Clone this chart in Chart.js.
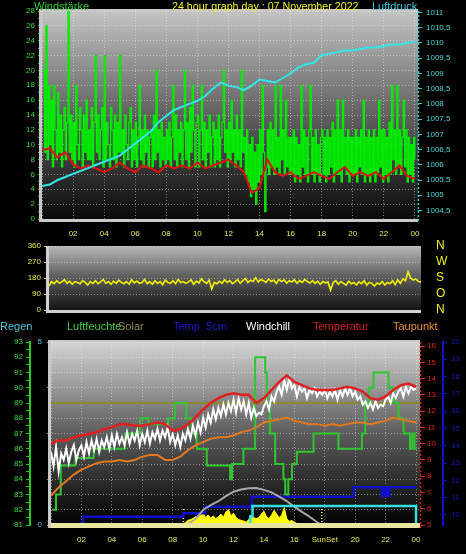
<!DOCTYPE html>
<html>
<head>
<meta charset="utf-8">
<script src="https://cdn.jsdelivr.net/npm/chart.js@4.4.0/dist/chart.umd.min.js"></script>
<style>
body { margin: 0; background: #000; width: 466px; height: 554px; overflow: hidden; position: relative; font-family: 'Liberation Sans', Arial, sans-serif; }
canvas { position: absolute; left: 0; top: 0; }
.t { position: absolute; font-size: 11px; line-height: 12px; white-space: nowrap; }
</style>
</head>
<body>
<canvas id="c1" width="466" height="554"></canvas>
<canvas id="c2" width="466" height="554"></canvas>
<canvas id="c3" width="466" height="554"></canvas>

<div class="t" style="left:34px;top:0;color:#33cc33">Windstärke</div>
<div class="t" style="left:172px;top:0;color:#eeee22;font-size:10.7px">24 hour graph day : 07 November 2022</div>
<div class="t" style="left:372px;top:0;color:#33ccdd">Luftdruck</div>

<div class="t" style="left:0;top:320px;color:#44ccdd">Regen</div>
<div class="t" style="left:67px;top:320px;color:#44cc44">Luftfeuchte</div>
<div class="t" style="left:118px;top:320px;color:#8c8c4c">Solar</div>
<div class="t" style="left:173px;top:320px;color:#1a1acc">Temp. 5cm</div>
<div class="t" style="left:246px;top:320px;color:#ffffff">Windchill</div>
<div class="t" style="left:313px;top:320px;color:#d42020">Temperatur</div>
<div class="t" style="left:393px;top:320px;color:#e8903a">Taupunkt</div>

<script>
// top panel: wind speed every 5 min, mean wind + pressure every 30 min
const windGust = [
  20, 20, 9, 26, 8, 18, 10, 16, 7, 18, 12, 8,
  17, 9, 14, 7, 12, 15, 8, 13, 28, 9, 14, 8,
  13, 7, 18, 10, 8, 15, 12, 7, 14, 9, 16, 8,
  12, 8, 15, 7, 13, 22, 9, 14, 8, 12, 15, 7,
  22, 8, 13, 10, 7, 15, 12, 8, 14, 7, 13, 9,
  22, 9, 12, 7, 14, 10, 8, 13, 15, 7, 12, 8,
  13, 7, 11, 18, 8, 12, 7, 14, 9, 12, 7, 11,
  12, 7, 14, 8, 20, 9, 12, 7, 13, 8, 11, 7,
  12, 8, 13, 7, 11, 18, 8, 14, 7, 12, 9, 13,
  7, 12, 20, 8, 13, 7, 15, 9, 18, 12, 7, 13,
  14, 7, 12, 18, 8, 13, 7, 12, 9, 14, 7, 11,
  13, 7, 12, 8, 14, 7, 11, 13, 20, 9, 12, 7,
  13, 8, 16, 9, 12, 7, 14, 8, 12, 7, 20, 9,
  11, 6, 12, 5, 10, 3, 11, 4, 9, 2, 10, 5,
  12, 6, 18, 9, 1, 7, 12, 6, 13, 7, 12, 6,
  18, 7, 11, 6, 18, 8, 12, 6, 16, 7, 11, 6,
  11, 6, 12, 5, 11, 6, 10, 5, 18, 7, 12, 6,
  11, 5, 12, 18, 6, 11, 5, 12, 6, 10, 5, 11,
  12, 6, 11, 5, 12, 6, 11, 7, 13, 5, 12, 6,
  16, 6, 12, 5, 16, 7, 11, 6, 12, 5, 11, 6,
  11, 6, 12, 5, 11, 7, 12, 6, 16, 5, 11, 6,
  12, 5, 11, 6, 12, 5, 11, 6, 16, 7, 12, 5,
  12, 6, 11, 5, 13, 6, 18, 8, 12, 6, 18, 7,
  12, 6, 11, 16, 7, 12, 5, 11, 6, 10, 5, 11,
  8
];
const windAvg = [
  9.3, 9.5, 8.3, 9.0, 7.3, 6.8, 7.2, 6.8, 6.3, 6.8, 7.6, 6.8, 6.3, 7.2, 6.8, 6.3,
  7.2, 6.8, 7.2, 6.8, 7.6, 6.8, 7.2, 7.6, 8.0, 7.2, 6.3, 3.5, 4.2, 8.0, 6.3, 5.8,
  6.3, 5.4, 5.8, 6.3, 5.8, 5.4, 6.3, 7.0, 5.8, 6.3, 5.8, 6.3, 5.4, 6.3, 7.2, 5.8, 5.4
];
const pressure = [
  1005.3, 1005.35, 1005.5, 1005.6, 1005.7, 1005.8, 1005.9, 1006.0, 1006.1, 1006.2,
  1006.3, 1006.5, 1006.7, 1006.9, 1007.1, 1007.4, 1007.6, 1007.8, 1007.9, 1008.0,
  1008.1, 1008.25, 1008.5, 1008.7, 1008.6, 1008.55, 1008.45, 1008.6, 1008.8, 1008.75,
  1008.7, 1008.85, 1009.0, 1009.2, 1009.3, 1009.35, 1009.6, 1009.65, 1009.7, 1009.75,
  1009.75, 1009.8, 1009.85, 1009.85, 1009.9, 1009.95, 1009.95, 1010.0, 1010.05
];

// middle panel: wind direction every 10 min
const windDir = [
  135, 160, 148, 165, 152, 158,  170, 150, 162, 145, 160, 155,  148, 165, 155, 140, 160, 150,
  165, 148, 158, 172, 150, 160,  145, 162, 150, 168, 155, 148,  160, 145, 170, 152, 163, 150,
  155, 172, 148, 160, 145, 165,  150, 160, 142, 168, 155, 150,  165, 148, 172, 155, 160, 150,
  158, 170, 145, 163, 152, 175,  160, 150, 168, 118, 155, 148,  162, 150, 170, 155, 165, 148,
  158, 172, 150, 165, 178, 155,  168, 160, 182, 158, 172, 165,  155, 175, 160, 168, 150, 172,
  160, 170, 152, 165, 158, 170,  150, 165, 155, 172, 160, 152,  165, 150, 162, 145, 160, 152,
  158, 112, 155, 165, 145, 160,  150, 140, 162, 148, 155, 142,  158, 148, 165, 140, 155, 150,
  135, 152, 145, 160, 140, 155,  148, 165, 142, 170, 150, 175,  165, 215, 180, 168, 175, 160,
  158
];
const compass = { 0: 'N', 90: 'O', 180: 'S', 270: 'W', 360: 'N' };

// bottom panel
const humTimes = [0.1, 0.33, 0.64, 1.6, 2.8, 4.87, 5.86, 6.4, 7.7, 8.16, 8.9, 9.25, 9.58, 10.24,
  11.78, 11.9, 12.65, 13.42, 14.08, 14.19, 14.4, 14.74, 15.28, 15.4, 15.6, 15.84, 16.16, 17.26,
  18.9, 20.44, 20.66, 20.88, 21.2, 22.19, 22.52, 22.85, 23.18, 23.6, 23.75, 23.9, 24.05];
const humValues = [82, 83, 84.9, 85.4, 86, 87, 88, 87.6, 88, 89, 88, 87, 86, 84.9,
  84, 85, 86, 92, 91, 89, 87, 85, 84, 83, 84, 85, 85.8, 87,
  86, 87, 89, 90, 91, 90, 89, 88, 87, 86, 87, 86, 86];
const temperature = [ // every 30 min
  10.0, 10.2, 10.2, 10.4, 10.5, 10.6, 10.7, 10.9, 11.0, 11.2, 11.2, 11.1, 11.1, 11.2, 11.3, 11.2,
  10.8, 10.9, 11.2, 11.6, 12.1, 12.5, 12.8, 13.0, 13.1, 13.0, 13.0, 12.5, 12.8, 13.3, 13.8, 14.2,
  13.8, 13.6, 13.4, 13.3, 13.3, 13.3, 13.4, 13.5, 13.4, 13.2, 12.8, 12.7, 12.9, 13.3, 13.6, 13.7, 13.5
];
const dewPoint = [ // every 30 min
  6.8, 7.3, 7.7, 8.1, 8.4, 8.6, 8.8, 8.9, 8.9, 9.0, 8.9, 9.0, 9.2, 9.3, 9.3, 9.0,
  9.0, 9.2, 9.6, 9.9, 10.1, 10.3, 10.4, 10.4, 10.5, 10.7, 10.8, 11.0, 11.3, 11.4, 11.5, 11.6,
  11.4, 11.3, 11.2, 11.2, 11.1, 11.2, 11.1, 11.2, 11.3, 11.3, 11.2, 11.3, 11.4, 11.6, 11.5, 11.4, 11.3
];
const windChill = [ // every 10 min
  9.5, 8.6, 9.8, 8.3, 9.4, 9.0,   9.7, 8.8, 9.5, 9.9, 9.0, 9.6,   9.9, 9.2, 10.1, 9.4, 10.2, 9.6,
  10.3, 9.5, 10.2, 9.8, 10.4, 9.7,   10.5, 9.8, 10.6, 10.0, 10.4, 9.9,   10.7, 10.0, 10.6, 10.2, 10.8, 9.9,
  10.6, 10.1, 10.8, 10.0, 10.7, 10.3,   10.9, 10.2, 10.8, 10.4, 11.0, 10.1,   10.6, 9.9, 10.5, 9.8, 10.6, 10.2,
  10.9, 10.3, 11.1, 10.5, 11.3, 10.7,   11.6, 11.0, 11.8, 11.3, 12.1, 11.5,   12.2, 11.7, 12.4, 11.8, 12.5, 12.0,
  12.7, 11.9, 12.8, 12.1, 12.6, 11.8,   12.5, 11.6, 12.2, 11.7, 11.9, 11.8,   12.3, 12.6, 12.1, 12.9, 12.6, 13.2,
  13.5, 13.0, 13.9, 13.3, 14.0, 13.4,   13.6, 12.9, 13.5, 13.2, 13.4, 12.8,   13.3, 13.1, 13.4, 12.9, 13.2, 13.0,
  13.3, 12.8, 13.2, 12.9, 13.3, 12.7,   13.3, 12.9, 13.4, 13.0, 13.4, 12.9,   13.2, 12.7, 12.9, 12.4, 12.6, 12.2,
  12.5, 12.1, 12.6, 12.2, 12.4, 12.3,   12.7, 12.9, 12.5, 13.1, 12.8, 13.2,   13.4, 12.9, 13.5, 13.1, 13.5, 13.3,
  13.4
];
const rainTimes = [0, 13.1, 13.25, 24.0, 24.26];
const rainValues = [0, 0.23, 0.52, 0, 0];
const t5Times = [0, 2.13, 8.7, 10.13, 13.2, 19.9, 21.75, 21.85, 21.95, 22.05, 22.15, 22.25, 22.4, 24.05];
const t5Values = [9.3, 9.9, 10.1, 10.48, 11.05, 11.6, 11.1, 11.6, 11.1, 11.6, 11.1, 11.6, 11.6, 11.6];
const solarStart = 8; // solar every 10 min from 08:00
const solar = [
  0, 0, 2, 5, 8, 12,   25, 30, 35, 45, 40, 55,   70, 40, 55, 38, 50, 35,   45, 60, 42, 72, 85, 50,
  65, 40, 30, 25, 22, 15,   30, 55, 40, 35, 42, 60,   75, 45, 35, 55, 80, 60,   40, 55, 95, 35, 20, 25,
  15, 8, 6, 5, 4, 3,   3, 2, 2, 1, 0, 0
];
const solarMaxTimes = [8.9, 9.5, 10, 10.5, 11, 11.5, 12, 12.5, 13, 13.5, 14, 14.5, 15, 15.5, 16, 16.5, 17, 17.5, 17.8];
const solarMax = [0, 33, 82, 108, 130, 158, 182, 194, 201, 202, 192, 178, 155, 130, 100, 72, 45, 15, 0];
const sunMarks = [8.7, 17.8];
const solarLevel = 89;

const tickFont = { family: "'Liberation Sans', Arial, sans-serif", size: 8 };
const dotted = 'rgba(255,255,255,0.42)';
const none = 'rgba(0,0,0,0)';
const pts = (times, vals) => vals.map((v, i) => ({ x: times[i], y: v }));
const every = (vals, step, start = 0) => vals.map((v, i) => ({ x: start + i * step, y: v }));
const onStep = step => s => { s.ticks = s.ticks.filter(t => Math.abs(t.value / step - Math.round(t.value / step)) < 1e-6); };
const hourLabel = v => v === 0 ? '' : String(v % 24).padStart(2, '0');

const panel = {
  id: 'panel',
  beforeDraw(chart, args, o) {
    const { ctx, chartArea: a } = chart;
    const g = ctx.createLinearGradient(0, a.top, 0, a.bottom);
    g.addColorStop(0, o.top);
    g.addColorStop(0.5, o.mid);
    g.addColorStop(1, o.bottom);
    ctx.save();
    ctx.fillStyle = g;
    ctx.fillRect(a.left, a.top, a.right - a.left, a.bottom - a.top);
    ctx.restore();
  },
  afterDraw(chart, args, o) {
    const { ctx, chartArea: a } = chart;
    ctx.save();
    ctx.fillStyle = o.frame;
    ctx.fillRect(a.left - 3, a.top - (o.topLine ? 2 : 0), 3, a.bottom - a.top + 3);
    ctx.fillRect(a.left - 3, a.bottom, a.right - a.left + 3, 3);
    if (o.topLine) ctx.fillRect(a.left - 3, a.top - 2, a.right - a.left + 3, 2);
    if (o.base) { ctx.fillStyle = o.base; ctx.fillRect(a.left, a.bottom - 2, a.right - a.left, 5); }
    if (o.right) {
      ctx.strokeStyle = o.right; ctx.lineWidth = 1.5; ctx.setLineDash([2, 2]);
      ctx.beginPath(); ctx.moveTo(a.right + 0.5, a.top); ctx.lineTo(a.right + 0.5, a.bottom + 3); ctx.stroke();
    }
    ctx.restore();
  }
};

const base = (padding, panelOpts) => ({
  responsive: false,
  animation: false,
  events: [],
  layout: { padding },
  plugins: { legend: { display: false }, tooltip: { enabled: false }, panel: panelOpts },
  elements: { point: { radius: 0 }, line: { tension: 0 } }
});

// ---- top chart
const opt1 = base({ left: 0, right: 0, top: 11, bottom: 310 },
  { top: '#c4c4c4', mid: '#606060', bottom: '#0a0a0a', frame: '#c8c8c8', topLine: true, right: '#33cccc' });
opt1.scales = {
  x: {
    type: 'linear', min: 0, max: 24.2,
    afterBuildTicks: onStep(1), afterFit: s => { s.height = 25; },
    grid: { color: c => c.tick.value % 2 === 0 ? dotted : none, drawTicks: false },
    border: { display: false, dash: [1, 2] },
    ticks: { stepSize: 1, includeBounds: false, autoSkip: false, maxRotation: 0, padding: 10, color: '#e8e850', font: tickFont,
      callback: v => v % 2 === 0 ? hourLabel(v) : '' }
  },
  yWind: {
    position: 'left', min: 0, max: 28,
    afterBuildTicks: onStep(1), afterFit: s => { s.width = 42; },
    grid: { color: c => c.tick.value % 2 === 0 ? dotted : none, tickColor: '#22bb22', tickLength: 4 },
    border: { display: false, dash: [1, 2] },
    ticks: { stepSize: 1, includeBounds: false, autoSkip: false, padding: 3, color: '#33dd33', font: tickFont,
      callback: v => v % 2 === 0 ? v : '' }
  },
  yPress: {
    position: 'right', min: 1004.22, max: 1011.05,
    afterBuildTicks: onStep(0.5), afterFit: s => { s.width = 48; },
    grid: { drawOnChartArea: false, tickColor: '#33cccc', tickLength: 4 },
    border: { display: false },
    ticks: { stepSize: 0.5, includeBounds: false, autoSkip: false, padding: 4, color: '#44d8d8', font: tickFont,
      callback: v => String(v).replace('.', ',') }
  }
};
new Chart(document.getElementById('c1'), {
  type: 'line',
  data: {
    datasets: [
      { data: every(pressure, 0.5), yAxisID: 'yPress', borderColor: '#30e8e8', borderWidth: 2 },
      { data: every(windAvg, 0.5), yAxisID: 'yWind', borderColor: '#dd1111', borderWidth: 2 },
      { data: every(windGust, 1 / 12), yAxisID: 'yWind', borderColor: '#00f000', borderWidth: 1.2, stepped: true }
    ]
  },
  options: opt1,
  plugins: [panel]
});

// ---- middle chart
const opt2 = base({ left: 0, right: 0, top: 246, bottom: 244 },
  { top: '#b8b8b8', mid: '#5a5a5a', bottom: '#141414', frame: '#d0d0d0' });
opt2.scales = {
  x: { type: 'linear', min: 0, max: 24, display: false },
  yDir: {
    position: 'left', min: 0, max: 360,
    afterFit: s => { s.width = 49; },
    grid: { color: dotted, tickColor: '#dddd44', tickLength: 5 },
    border: { display: false, dash: [1, 2] },
    ticks: { stepSize: 90, autoSkip: false, padding: 3, color: '#e8e850', font: tickFont }
  },
  yCompass: {
    position: 'right', min: 0, max: 360,
    afterFit: s => { s.width = 45; },
    grid: { drawOnChartArea: false, drawTicks: false },
    border: { display: false },
    ticks: { stepSize: 90, autoSkip: false, padding: 15, color: '#eeee22',
      font: { family: "'Liberation Sans', Arial, sans-serif", size: 12 }, callback: v => compass[v] }
  }
};
new Chart(document.getElementById('c2'), {
  type: 'line',
  data: { datasets: [ { data: every(windDir, 1 / 6), yAxisID: 'yDir', borderColor: '#f0f000', borderWidth: 1.6 } ] },
  options: opt2,
  plugins: [panel]
});

// ---- bottom chart
const opt3 = base({ left: 0, right: 0, top: 342, bottom: 0 },
  { top: '#d4d4d4', mid: '#5c5c5c', bottom: '#000000', frame: '#c8c8c8', topLine: true, base: '#e6e6a0', right: '#d02020' });
opt3.scales = {
  x: {
    type: 'linear', min: 0, max: 24.26,
    afterBuildTicks: onStep(1), afterFit: s => { s.height = 29; },
    grid: { color: c => c.tick.value % 2 === 0 ? dotted : none, drawTicks: false },
    border: { display: false, dash: [1, 2] },
    ticks: { stepSize: 1, includeBounds: false, autoSkip: false, maxRotation: 0, padding: 10, color: '#e8e850', font: tickFont,
      callback: v => v === 18 ? 'SunSet' : (v % 2 === 0 ? hourLabel(v) : '') }
  },
  yHum: {
    position: 'left', weight: 1, min: 81, max: 93,
    afterBuildTicks: onStep(0.5), afterFit: s => { s.width = 30; },
    grid: { color: c => Number.isInteger(c.tick.value) ? dotted : none, tickColor: '#22cc22', tickLength: 4 },
    border: { display: true, color: '#22cc22', width: 2, dash: [1, 2] },
    ticks: { stepSize: 0.5, autoSkip: false, padding: 3, color: '#33dd33', font: tickFont,
      callback: v => Number.isInteger(v) ? v : '' }
  },
  yRain: {
    position: 'left', weight: 0, min: 0, max: 5,
    afterFit: s => { s.width = 21; },
    grid: { drawOnChartArea: false, tickColor: '#33bbcc', tickLength: 4 },
    border: { display: false },
    ticks: { stepSize: 1.25, autoSkip: false, padding: 5, color: '#44ccdd', font: tickFont,
      callback: v => (v === 0 || v === 5) ? v : '' }
  },
  yTemp: {
    position: 'right', weight: 0, min: 5, max: 16.25,
    afterBuildTicks: onStep(1), afterFit: s => { s.width = 23; },
    grid: { drawOnChartArea: false, tickColor: '#cc2222', tickLength: 5 },
    border: { display: false },
    ticks: { stepSize: 1, includeBounds: false, autoSkip: false, padding: 2, color: '#dd2222', font: tickFont }
  },
  yT5: {
    position: 'right', weight: 1, min: 9.42, max: 20,
    afterBuildTicks: onStep(1), afterFit: s => { s.width = 23; },
    grid: { drawOnChartArea: false, tickColor: '#1111cc', tickLength: 4 },
    border: { display: true, color: '#1111cc', width: 2 },
    ticks: { stepSize: 1, includeBounds: false, autoSkip: false, padding: 4, color: '#1a1ab8', font: tickFont }
  },
  ySolar: { display: false, min: 0, max: 1000 }
};
new Chart(document.getElementById('c3'), {
  type: 'line',
  data: {
    datasets: [
      { data: every(temperature, 0.5), yAxisID: 'yTemp', borderColor: '#e02020', borderWidth: 2.5 },
      { data: every(windChill, 1 / 6), yAxisID: 'yTemp', borderColor: '#ffffff', borderWidth: 2 },
      { data: every(dewPoint, 0.5), yAxisID: 'yTemp', borderColor: '#e07820', borderWidth: 2 },
      { data: pts(humTimes, humValues), yAxisID: 'yHum', borderColor: '#2ec72e', borderWidth: 2, stepped: true },
      { data: [{ x: 0, y: solarLevel }, { x: 24.26, y: solarLevel }], yAxisID: 'yHum', borderColor: '#8a8a30', borderWidth: 2 },
      { data: pts(rainTimes, rainValues), yAxisID: 'yRain', borderColor: '#30e0e0', borderWidth: 2.5, stepped: true },
      { data: pts(solarMaxTimes, solarMax), yAxisID: 'ySolar', borderColor: '#a8a8a8', borderWidth: 2 },
      { data: pts(t5Times, t5Values), yAxisID: 'yT5', borderColor: '#1010c8', borderWidth: 2.5, stepped: true },
      ...sunMarks.map(h => ({ data: [{ x: h, y: 0 }, { x: h, y: 90 }], yAxisID: 'ySolar',
        borderColor: '#ffff40', borderWidth: 1.5, borderDash: [1, 2] })),
      { data: every(solar, 1 / 6, solarStart), yAxisID: 'ySolar', borderColor: '#ffff00', borderWidth: 1,
        backgroundColor: '#ffff00', fill: 'origin' }
    ]
  },
  options: opt3,
  plugins: [panel]
});
</script>
</body>
</html>
